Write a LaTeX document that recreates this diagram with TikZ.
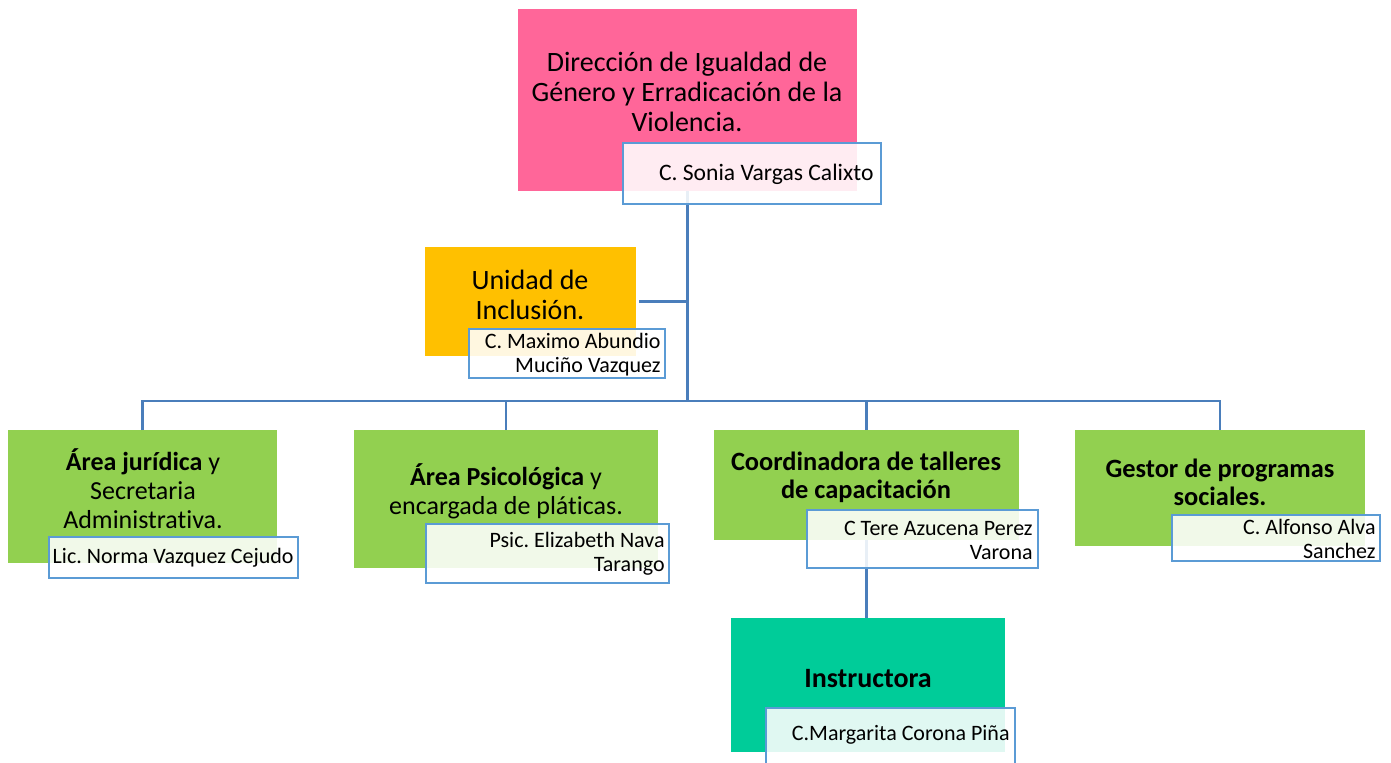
\documentclass[tikz,border=0pt]{standalone}
\usepackage{fontspec}
\setmainfont{Carlito}[Ligatures=CommonOff]
\frenchspacing
\definecolor{cpink}{HTML}{FF6699}
\definecolor{corange}{HTML}{FFC000}
\definecolor{cgreen}{HTML}{92D050}
\definecolor{cteal}{HTML}{00CC99}
\definecolor{cline}{HTML}{4A7EBB}
\definecolor{cborder}{HTML}{5B9BD5}
\begin{document}
\begin{tikzpicture}[x=0.5pt,y=-0.5pt,
  box/.style={inner sep=0pt, outer sep=0pt, anchor=north west, draw=none},
  namebox/.style={inner sep=0pt, outer sep=0pt, anchor=north west, draw=cborder, line width=1pt, fill=white, fill opacity=0.88},
  conn/.style={draw=cline, line width=1.4pt},
  bigtxt/.style={align=center, inner sep=0pt, font=\fontsize{14}{15}\selectfont},
  midtxt/.style={align=center, inner sep=0pt, font=\fontsize{13}{14.5}\selectfont},
  nametxt/.style={align=right, inner sep=0pt, anchor=east, font=\fontsize{11}{12}\selectfont}
]
\useasboundingbox (0,0) rectangle (1391,762);

% boxes
\node[box, fill=cpink, minimum width=169.5pt, minimum height=91pt] (dir) at (518,9) {};
\node[box, fill=corange, minimum width=105.5pt, minimum height=54.5pt] (uni) at (425,247) {};
\node[box, fill=cgreen, minimum width=134.5pt, minimum height=66.5pt] (a1) at (8,430) {};
\node[box, fill=cgreen, minimum width=152pt, minimum height=69pt] (a2) at (354,430) {};
\node[box, fill=cgreen, minimum width=152.5pt, minimum height=55pt] (a3) at (714,430) {};
\node[box, fill=cgreen, minimum width=145pt, minimum height=58pt] (a4) at (1075,430) {};
\node[box, fill=cteal, minimum width=137pt, minimum height=67pt] (ins) at (731,618) {};

% connectors
\coordinate (bus) at (686,401);
\draw[conn] (dir.south) -- (dir.south |- bus);
\draw[conn] (uni.east) ++(3,0) -- (uni.east -| dir.south);
\draw[conn] (a1.north) -- (a1.north |- bus) -- (a4.north |- bus) -- (a4.north);
\draw[conn] (a2.north |- bus) -- (a2.north);
\draw[conn] (a3.north |- bus) -- (a3.north);
\draw[conn] (a3.south) -- (a3.south |- ins.north);

% name boxes
\node[namebox, minimum width=129pt, minimum height=30.5pt] (nsonia) at (623,143) {};
\node[namebox, minimum width=98pt, minimum height=24.5pt] (nmax) at (469,329) {};
\node[namebox, minimum width=124.5pt, minimum height=20.5pt] (nnorma) at (49,537) {};
\node[namebox, minimum width=121.5pt, minimum height=29.5pt] (neli) at (426,524) {};
\node[namebox, minimum width=115.5pt, minimum height=29pt] (ntere) at (807,510) {};
\node[namebox, minimum width=104pt, minimum height=23pt] (nalf) at (1172,515) {};
\node[namebox, minimum width=124.5pt, minimum height=30pt] (nmar) at (766,708) {};

% texts
\node[bigtxt] (tdir) at (687,92) {Dirección de Igualdad de\\Género y Erradicación de la\\Violencia.};
\node[bigtxt] (tuni) at (530,295) {Unidad de\\Inclusión.};
\node[midtxt] (ta1) at (143,489) {\textbf{Área jurídica} y\\Secretaria\\Administrativa.};
\node[midtxt] (ta2) at (506,491) {\textbf{Área Psicológica} y\\encargada de pláticas.};
\node[midtxt, font=\fontsize{13.2}{14}\selectfont\bfseries] (ta3) at (866,477) {Coordinadora de talleres\\de capacitación};
\node[midtxt, font=\fontsize{13.2}{14}\selectfont\bfseries] (ta4) at (1220,482) {Gestor de programas\\sociales.};
\node[bigtxt, font=\fontsize{14}{15}\selectfont\bfseries] (tins) at (868,679) {Instructora};

\node[nametxt, font=\fontsize{11.8}{12}\selectfont] (tsonia) at (874,174) {C. Sonia Vargas Calixto};
\node[nametxt] (tmax) at (661,355) {C. Maximo Abundio\\Muciño Vazquez};
\node[nametxt] (tnorma) at (294,558) {Lic. Norma Vazquez Cejudo};
\node[nametxt] (teli) at (665,554) {Psic. Elizabeth Nava\\Tarango};
\node[nametxt] (ttere) at (1033,540) {C Tere Azucena Perez\\Varona};
\node[nametxt] (talf) at (1376,539) {C. Alfonso Alva\\Sanchez};
\node[nametxt] (tmar) at (1010,735) {C.Margarita Corona Piña};
\end{tikzpicture}
\end{document}
